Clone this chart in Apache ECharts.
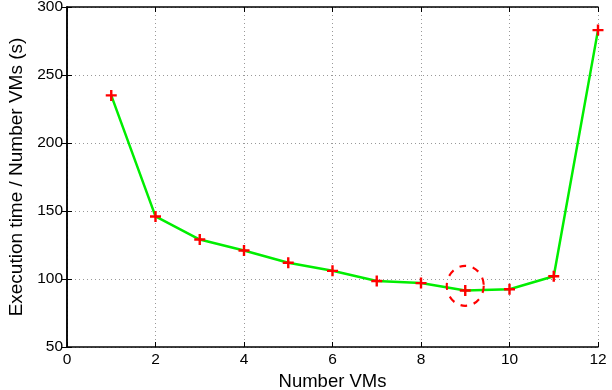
<!DOCTYPE html>
<html>
<head>
<meta charset="utf-8">
<script src="https://cdn.jsdelivr.net/npm/echarts@6/dist/echarts.min.js"></script>
<style>
html, body { margin: 0; padding: 0; background: #fff; }
#chart { width: 612px; height: 390px; }
</style>
</head>
<body>
<div id="chart"></div>
<script>
// data
const vms = [1, 2, 3, 4, 5, 6, 7, 8, 9, 10, 11, 12]
const timePerVm = [235, 146, 129, 121, 112, 106, 98.5, 97, 91.5, 92.5, 102, 283]
const bestVm = 9
const circleCenter = [9, 95]

const font = 'Liberation Sans, Arial, sans-serif'
const plus = 'path://M4.3,0H6.7V4.3H11V6.7H6.7V11H4.3V6.7H0V4.3H4.3Z'

let points = vms.map((v, i) => [v, timePerVm[i]])

let myChart = echarts.init(document.getElementById('chart'))

const frame = {
    axisLine: { show: true, lineStyle: { color: '#000', width: 1.5 } },
    axisTick: { show: true, inside: true, length: 5, lineStyle: { color: '#000' } }
}
const dots = { show: true, lineStyle: { color: '#999', type: [1, 3] } }

myChart.setOption({
    animation: false,
    grid: { left: 67, right: 14, top: 7, bottom: 43, containLabel: false, outerBoundsMode: 'none' },
    xAxis: [
        {
            type: 'value', min: 0, max: 12, interval: 2,
            name: 'Number VMs', nameLocation: 'middle', nameGap: 22,
            nameTextStyle: { fontFamily: font, fontSize: 18.5, color: '#000' },
            axisLabel: { fontFamily: font, fontSize: 15.5, color: '#000', margin: 5 },
            splitLine: dots,
            ...frame
        },
        {
            type: 'value', min: 0, max: 12, interval: 2, position: 'top',
            axisLabel: { show: false }, splitLine: { show: false },
            ...frame
        }
    ],
    yAxis: [
        {
            type: 'value', min: 50, max: 300, interval: 50,
            name: 'Execution time / Number VMs (s)', nameLocation: 'middle', nameGap: 36,
            nameTextStyle: { fontFamily: font, fontSize: 19, color: '#000' },
            axisLabel: { fontFamily: font, fontSize: 15.5, color: '#000', margin: 4 },
            splitLine: dots,
            ...frame
        },
        {
            type: 'value', min: 50, max: 300, interval: 50, position: 'right',
            axisLabel: { show: false }, splitLine: { show: false },
            ...frame
        }
    ],
    series: [
        {
            type: 'line',
            data: points,
            symbol: plus,
            symbolSize: 11,
            lineStyle: { color: '#00ee00', width: 2.5 },
            itemStyle: { color: '#ff0000' },
            markPoint: {
                symbol: 'circle',
                symbolSize: [37, 40],
                label: { show: false },
                itemStyle: { color: 'transparent', borderColor: '#ff0000', borderWidth: 2.2, borderType: [7, 7] },
                data: [{ name: 'best ' + bestVm, coord: circleCenter }]
            }
        }
    ]
})
</script>
</body>
</html>
